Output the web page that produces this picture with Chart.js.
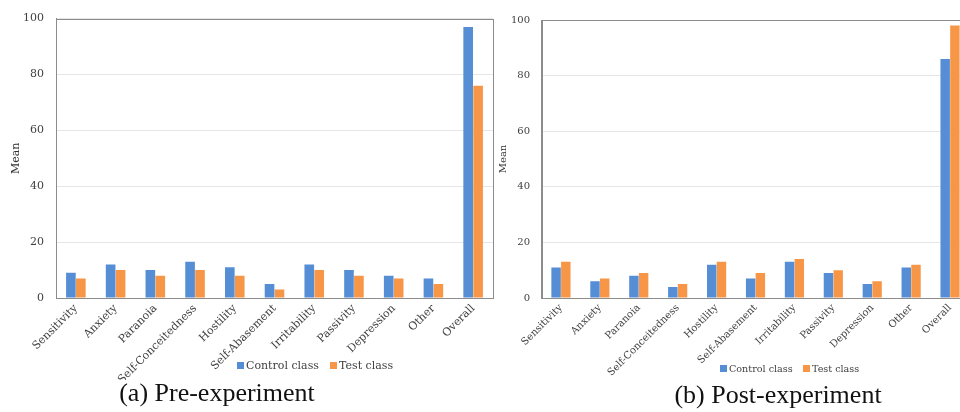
<!DOCTYPE html>
<html>
<head>
<meta charset="utf-8">
<script src="https://cdn.jsdelivr.net/npm/chart.js@4/dist/chart.umd.min.js"></script>
<style>
  html, body { margin: 0; padding: 0; background: #fff; overflow: hidden; }
  body { width: 960px; height: 412px; position: relative; }
  .panel { position: absolute; top: 0; }
  .legend { position: absolute; font-family: "DejaVu Serif", serif; color: #404040; white-space: nowrap; }
  .legend span.item { position: absolute; top: 0; display: flex; align-items: center; }
  .legend i { display: inline-block; width: 7px; height: 7px; margin-right: 2px; }
  .caption { position: absolute; font-family: "Liberation Serif", serif; font-size: 26px; color: #111; white-space: nowrap; transform: translateX(-50%); }
</style>
</head>
<body>
<div class="panel" style="left:0;width:500px;height:380px;"><canvas id="pre" width="500" height="380"></canvas></div>
<div class="panel" style="left:490px;width:485px;height:380px;"><canvas id="post" width="485" height="380"></canvas></div>

<div class="legend" style="left:237px;top:359px;font-size:11px;">
  <span class="item" style="left:0"><i style="background:#558ED5"></i>Control class</span>
  <span class="item" style="left:93px"><i style="background:#F79646"></i>Test class</span>
</div>
<div class="legend" style="left:720px;top:363px;font-size:9.6px;">
  <span class="item" style="left:0"><i style="background:#558ED5"></i>Control class</span>
  <span class="item" style="left:83px"><i style="background:#F79646"></i>Test class</span>
</div>

<div class="caption" style="left:217px;top:378px;">(a) Pre-experiment</div>
<div class="caption" style="left:778px;top:380px;">(b) Post-experiment</div>

<script>
// SCL-90 style factor means for the two classes
const categories = ['Sensitivity', 'Anxiety', 'Paranoia', 'Self-Conceitedness', 'Hostility',
  'Self-Abasement', 'Irritability', 'Passivity', 'Depression', 'Other', 'Overall'];
const seriesNames = ['Control class', 'Test class'];

const preControl  = [9, 12, 10, 13, 11, 5, 12, 10, 8, 7, 97];
const preTest     = [7, 10, 8, 10, 8, 3, 10, 8, 7, 5, 76];
const postControl = [11, 6, 8, 4, 12, 7, 13, 9, 5, 11, 86];
const postTest    = [13, 7, 9, 5, 13, 9, 14, 10, 6, 12, 98];

const yTicks = [0, 20, 40, 60, 80, 100];

const BLUE = '#558ED5';
const ORANGE = '#F79646';
const TEXT = '#404040';

// outline around the plotting area
const plotFrame = {
  id: 'plotFrame',
  afterDatasetsDraw(chart) {
    const { ctx, chartArea: a } = chart;
    ctx.save();
    ctx.strokeStyle = '#8c8c8c';
    ctx.lineWidth = 1;
    ctx.strokeRect(Math.round(a.left) + 0.5, Math.round(a.top) + 0.5,
      Math.round(a.right - a.left), Math.round(a.bottom - a.top));
    ctx.restore();
  }
};

function makeChart(id, control, test, cfg) {
  const font = { family: '"DejaVu Serif", serif', size: cfg.fontSize };
  return new Chart(document.getElementById(id), {
    type: 'bar',
    data: {
      labels: categories,
      datasets: [
        { label: seriesNames[0], data: control, backgroundColor: BLUE, borderWidth: 0 },
        { label: seriesNames[1], data: test, backgroundColor: ORANGE, borderWidth: 0 }
      ]
    },
    options: {
      responsive: false,
      animation: false,
      devicePixelRatio: 1,
      categoryPercentage: 0.5,
      barPercentage: 0.97,
      layout: { padding: { left: 0, top: cfg.top, right: cfg.right, bottom: 0 } },
      plugins: { legend: { display: false }, tooltip: { enabled: false } },
      scales: {
        x: {
          grid: { display: false, drawTicks: false },
          border: { display: true, color: '#9a9a9a' },
          ticks: { color: TEXT, font, minRotation: 45, maxRotation: 45, padding: 4, autoSkip: false },
          afterFit: s => { s.height = cfg.height - cfg.bottom; }
        },
        y: {
          min: 0, max: 100,
          afterBuildTicks: s => { s.ticks = yTicks.map(v => ({ value: v })); },
          grid: { color: '#e6e6e6', drawTicks: false },
          border: { display: true, color: '#8c8c8c' },
          ticks: { color: TEXT, font, padding: cfg.tickPad },
          title: { display: true, text: 'Mean', color: '#333', font, padding: { top: cfg.titlePad, bottom: 0 } },
          afterFit: s => { s.width = cfg.axisWidth; }
        }
      }
    },
    plugins: [plotFrame]
  });
}

makeChart('pre', preControl, preTest,
  { fontSize: 11, top: 13, right: 7, bottom: 298, height: 380, axisWidth: 56, tickPad: 12, titlePad: 10 });
makeChart('post', postControl, postTest,
  { fontSize: 10, top: 20, right: 5.5, bottom: 298, height: 380, axisWidth: 51.5, tickPad: 11.5, titlePad: 7 });
</script>
</body>
</html>
